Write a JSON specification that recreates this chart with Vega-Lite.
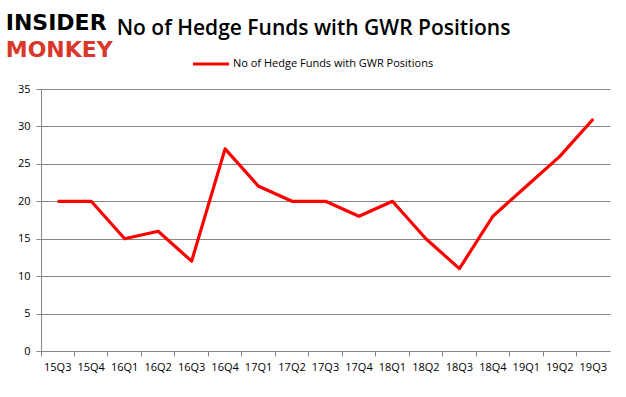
{
  "$schema": "https://vega.github.io/schema/vega-lite/v6.json",
  "width": 569,
  "height": 262,
  "autosize": {"type": "none"},
  "padding": {"left": 41, "top": 89, "right": 16, "bottom": 46},
  "background": "white",
  "title": {
    "text": "No of Hedge Funds with GWR Positions",
    "font": "Open Sans",
    "fontSize": 21,
    "fontWeight": 600,
    "color": "#000000",
    "anchor": "middle",
    "frame": "group",
    "dx": -12,
    "offset": -27
  },
  "config": {
    "view": {"stroke": null},
    "axis": {
      "labelFont": "Open Sans",
      "labelFontSize": 11,
      "labelColor": "#000000",
      "domainColor": "#868686",
      "tickColor": "#868686",
      "gridColor": "#868686",
      "tickSize": 5
    }
  },
  "resolve": {"axis": {"y": "independent", "x": "independent"}},
  "data": {
    "values": [
      {"q": "15Q3", "n": 20, "s": "No of Hedge Funds with GWR Positions"},
      {"q": "15Q4", "n": 20, "s": "No of Hedge Funds with GWR Positions"},
      {"q": "16Q1", "n": 15, "s": "No of Hedge Funds with GWR Positions"},
      {"q": "16Q2", "n": 16, "s": "No of Hedge Funds with GWR Positions"},
      {"q": "16Q3", "n": 12, "s": "No of Hedge Funds with GWR Positions"},
      {"q": "16Q4", "n": 27, "s": "No of Hedge Funds with GWR Positions"},
      {"q": "17Q1", "n": 22, "s": "No of Hedge Funds with GWR Positions"},
      {"q": "17Q2", "n": 20, "s": "No of Hedge Funds with GWR Positions"},
      {"q": "17Q3", "n": 20, "s": "No of Hedge Funds with GWR Positions"},
      {"q": "17Q4", "n": 18, "s": "No of Hedge Funds with GWR Positions"},
      {"q": "18Q1", "n": 20, "s": "No of Hedge Funds with GWR Positions"},
      {"q": "18Q2", "n": 15, "s": "No of Hedge Funds with GWR Positions"},
      {"q": "18Q3", "n": 11, "s": "No of Hedge Funds with GWR Positions"},
      {"q": "18Q4", "n": 18, "s": "No of Hedge Funds with GWR Positions"},
      {"q": "19Q1", "n": 22, "s": "No of Hedge Funds with GWR Positions"},
      {"q": "19Q2", "n": 26, "s": "No of Hedge Funds with GWR Positions"},
      {"q": "19Q3", "n": 31, "s": "No of Hedge Funds with GWR Positions"}
    ]
  },
  "layer": [
    {
      "mark": {"type": "line", "strokeWidth": 3.2, "strokeJoin": "round"},
      "encoding": {
        "x": {
          "field": "q",
          "type": "ordinal",
          "sort": null,
          "scale": {"type": "band", "paddingInner": 0, "paddingOuter": 0},
          "axis": {
            "title": null,
            "labelAngle": 0,
            "labelPadding": 11,
            "bandPosition": 0,
            "grid": false,
            "ticks": true,
            "labelBaseline": "middle"
          }
        },
        "y": {
          "field": "n",
          "type": "quantitative",
          "scale": {"domain": [0, 35]},
          "axis": {
            "title": null,
            "values": [0, 5, 10, 15, 20, 25, 30, 35],
            "labelOverlap": false,
            "grid": true,
            "labelPadding": 6
          }
        },
        "color": {
          "field": "s",
          "type": "nominal",
          "scale": {"range": ["#ff0000"]},
          "legend": {
            "title": null,
            "orient": "none",
            "legendX": 150,
            "legendY": -45,
            "symbolType": "stroke",
            "symbolStrokeWidth": 3,
            "symbolSize": 1300,
            "labelOffset": 2,
            "labelLimit": 400,
            "labelFont": "Open Sans",
            "labelFontSize": 11,
            "labelColor": "#000000"
          }
        }
      }
    },
    {
      "data": {"values": [{"t": "INSIDER", "c": "#000000", "y": 43.8, "xq": "15Q3"}, {"t": "MONKEY", "c": "#d9372a", "y": 40.2, "xq": "15Q3"}]},
      "mark": {"type": "text", "align": "left", "baseline": "middle", "font": "DejaVu Sans", "fontWeight": "bold", "fontSize": 22, "dx": -52},
      "encoding": {
        "x": {"field": "xq", "type": "ordinal", "axis": null},
        "y": {"field": "y", "type": "quantitative", "axis": null},
        "text": {"field": "t"},
        "color": {"field": "c", "type": "nominal", "scale": null, "legend": null}
      }
    }
  ]
}
